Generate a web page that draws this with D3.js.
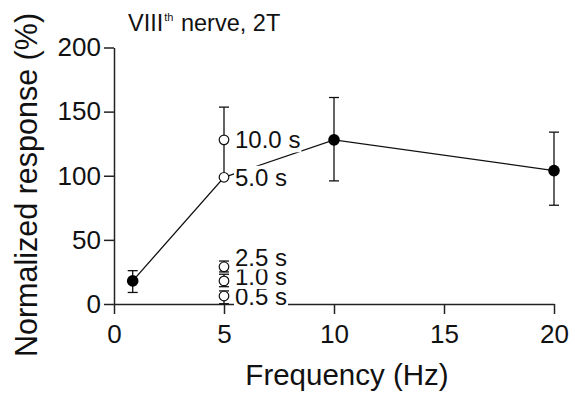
<!DOCTYPE html>
<html>
<head>
<meta charset="utf-8">
<script src="https://cdn.jsdelivr.net/npm/d3@7"></script>
<style>
  body { margin: 0; background: #fff; }
  text { font-family: "Liberation Sans", Arial, sans-serif; fill: #111; }
</style>
</head>
<body>
<script>
// main frequency series (filled), the 5 Hz point is the 5.0 s train
const lineFreq = [0.85, 5, 10, 20];
const lineResp = [18, 98.8, 128, 104];
const lineErrUp = [8, 0, 33, 30];
const lineErrDown = [9, 0, 32, 27];

// train durations at 5 Hz (open)
const durLabels = ["10.0 s", "5.0 s", "2.5 s", "1.0 s", "0.5 s"];
const durFreq = [5, 5, 5, 5, 5];
const durResp = [128, 98.8, 29, 18, 6.2];
const durErrUp = [25.5, 0, 4.5, 5.2, 4];
const durErrDown = [29, 0, 4, 4.5, 6];

const xTicks = [0, 5, 10, 15, 20];
const yTicks = [0, 50, 100, 150, 200];

let width = 575, height = 394;

let svg = d3.select("body").append("svg")
    .attr("width", width)
    .attr("height", height);

let x = d3.scaleLinear().domain([0, 20]).range([114, 554]);
let y = d3.scaleLinear().domain([0, 200]).range([304, 47.5]);

// axes
let xAxis = svg.append("g")
    .attr("transform", `translate(0,${y(0)})`)
    .call(d3.axisBottom(x).tickValues(xTicks).tickSize(10).tickSizeOuter(0).tickPadding(11));
let yAxis = svg.append("g")
    .attr("transform", `translate(${x(0)},0)`)
    .call(d3.axisLeft(y).tickValues(yTicks).tickSize(10).tickSizeOuter(0).tickPadding(3));

[xAxis, yAxis].forEach(a => {
    a.selectAll("path, line").attr("stroke", "#222").attr("stroke-width", 1.5);
    a.selectAll("text").attr("font-size", 26).attr("fill", "#111")
        .style("font-family", '"Liberation Sans", Arial, sans-serif');
});

// connecting line
let pts = lineFreq.map((f, i) => [x(f), y(lineResp[i])]);
svg.append("path")
    .attr("d", d3.line()(pts))
    .attr("fill", "none")
    .attr("stroke", "#111")
    .attr("stroke-width", 1.3);

// error bars
let drawErr = (fx, v, up, down) => {
    let cx = x(fx), cap = 5;
    if (up + down === 0) return;
    svg.append("line").attr("x1", cx).attr("x2", cx)
        .attr("y1", y(v + up)).attr("y2", y(v - down))
        .attr("stroke", "#111").attr("stroke-width", 1.3);
    [[up, v + up], [down, v - down]].forEach(([e, val]) => {
        if (e > 0) svg.append("line")
            .attr("x1", cx - cap).attr("x2", cx + cap)
            .attr("y1", y(val)).attr("y2", y(val))
            .attr("stroke", "#111").attr("stroke-width", 1.3);
    });
};

lineFreq.forEach((f, i) => drawErr(f, lineResp[i], lineErrUp[i], lineErrDown[i]));
durFreq.forEach((f, i) => drawErr(f, durResp[i], durErrUp[i], durErrDown[i]));

// filled markers (skip 5 Hz, drawn open)
svg.append("g").selectAll("circle")
    .data(lineFreq.map((f, i) => i).filter(i => lineFreq[i] !== 5))
    .enter().append("circle")
    .attr("cx", i => x(lineFreq[i]))
    .attr("cy", i => y(lineResp[i]))
    .attr("r", 5.8)
    .attr("fill", "#000");

svg.append("g").selectAll("circle")
    .data(durResp)
    .enter().append("circle")
    .attr("cx", (d, i) => x(durFreq[i]))
    .attr("cy", d => y(d))
    .attr("r", 4.8)
    .attr("fill", "#fff")
    .attr("stroke", "#111")
    .attr("stroke-width", 1.2);

// duration labels with white backing, stacked so they don't overlap
let order = durResp.map((d, i) => i).sort((a, b) => durResp[a] - durResp[b]);
let prev = Infinity;
order.forEach(i => {
    let base = Math.min(y(durResp[i]) + 8.5, prev - 19.5);
    prev = base;
    let g = svg.append("g");
    let rect = g.append("rect").attr("fill", "#fff");
    let t = g.append("text")
        .attr("x", x(durFreq[i]) + 11)
        .attr("y", base)
        .attr("font-size", 24)
        .text(durLabels[i]);
    let bb = t.node().getBBox();
    rect.attr("x", bb.x - 1).attr("y", bb.y + 2).attr("width", bb.width + 2).attr("height", bb.height - 3);
});

// titles
let title = svg.append("text")
    .attr("x", 128)
    .attr("y", 31)
    .attr("font-size", 23.5);
title.append("tspan").text("VIII");
title.append("tspan").attr("font-size", 11).attr("dy", -10).attr("dx", 1).text("th");
title.append("tspan").attr("dy", 10).attr("dx", 1).text(" nerve, 2T");

svg.append("text")
    .attr("x", 347)
    .attr("y", 385)
    .attr("text-anchor", "middle")
    .attr("font-size", 29.5)
    .text("Frequency (Hz)");

svg.append("text")
    .attr("transform", "rotate(-90)")
    .attr("x", -185)
    .attr("y", 37)
    .attr("text-anchor", "middle")
    .attr("font-size", 30.5)
    .text("Normalized response (%)");
</script>
</body>
</html>
